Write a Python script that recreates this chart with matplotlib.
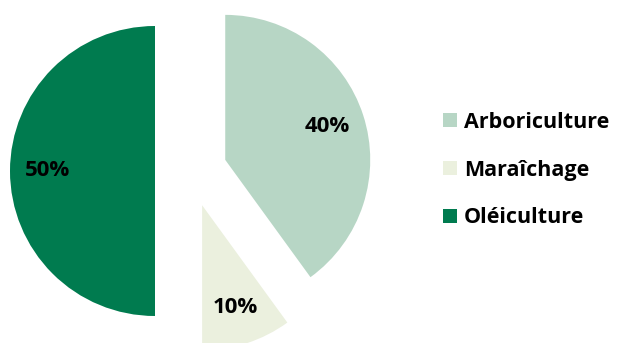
import matplotlib.pyplot as plt

labels = ['Arboriculture', 'Maraîchage', 'Oléiculture']
values = [40, 10, 50]
colors = ['#b7d6c5', '#ebf0de', '#007b4f']

plt.rcParams['font.family'] = ['Open Sans', 'DejaVu Sans']

W, H = 617, 343
fig = plt.figure(figsize=(W / 100, H / 100), dpi=100)
ax = fig.add_axes([0, 0, 1, 1])

# pie drawn in pixel units so it can run off the bottom edge like the original
r = 145
gap = 36  # explode distance in pixels (matplotlib uses absolute units)
wedges, texts, autotexts = ax.pie(
    values, colors=colors, startangle=90, counterclock=False,
    explode=[gap] * 3, radius=r, center=(191, H - 171),
    autopct='%1.0f%%', pctdistance=0.74,
    textprops=dict(fontsize=16, fontweight='bold', color='black'),
)
ax.set_xlim(0, W)
ax.set_ylim(0, H)
ax.set_aspect('equal')
ax.axis('off')

leg = fig.legend(wedges, labels, loc='center left',
                 bbox_to_anchor=(443 / W, 1 - 170 / H), frameon=False,
                 prop=dict(size=15.5, weight='bold'),
                 handlelength=0.65, handleheight=0.65, handletextpad=0.32,
                 labelspacing=1.25, borderpad=0, borderaxespad=0)

fig.savefig('out.png', dpi=100)
